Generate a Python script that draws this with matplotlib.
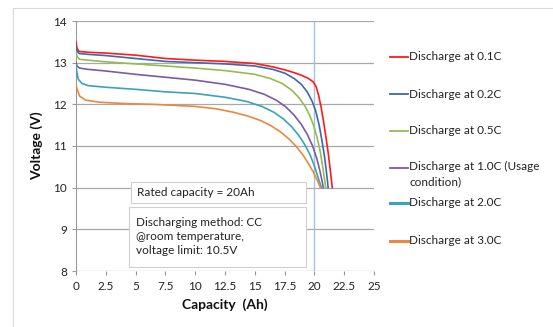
import matplotlib
matplotlib.use('Agg')
import matplotlib.pyplot as plt
from matplotlib.lines import Line2D
from matplotlib.patches import Rectangle

plt.rcParams['font.family'] = ['Lato', 'DejaVu Sans']

# discharge curves, capacity (Ah) vs voltage (V)
cap_01 = [0, 0.08, 0.25, 1, 2.5, 5, 7.5, 10, 12.5, 15, 16.5, 17.5, 18.3, 18.9, 19.5, 19.9, 20.15,
          20.35, 20.55, 20.75, 20.95, 21.15, 21.3, 21.42, 21.5]
volt_01 = [13.5, 13.35, 13.27, 13.25, 13.23, 13.18, 13.1, 13.06, 13.03, 12.98, 12.9, 12.83, 12.76,
           12.7, 12.62, 12.54, 12.42, 12.22, 11.95, 11.62, 11.25, 10.85, 10.5, 10.2, 10.0]

cap_02 = [0, 0.08, 0.25, 1, 2.5, 5, 7.5, 10, 12.5, 15, 16.5, 17.5, 18.3, 18.9, 19.4, 19.8, 20.1,
          20.4, 20.65, 20.85, 21.0, 21.1, 21.15]
volt_02 = [13.4, 13.28, 13.22, 13.2, 13.17, 13.1, 13.03, 13.0, 12.97, 12.92, 12.84, 12.75, 12.62,
           12.48, 12.3, 12.08, 11.85, 11.5, 11.1, 10.75, 10.4, 10.15, 10.0]

cap_05 = [0, 0.08, 0.3, 1, 2.5, 5, 7.5, 10, 12.5, 15, 16.3, 17.3, 18.1, 18.7, 19.2, 19.6, 19.95,
          20.25, 20.5, 20.7, 20.85, 20.95]
volt_05 = [13.25, 13.15, 13.08, 13.06, 13.02, 12.97, 12.92, 12.87, 12.81, 12.72, 12.62, 12.5, 12.34,
           12.16, 11.96, 11.74, 11.48, 11.18, 10.85, 10.5, 10.2, 10.0]

cap_10 = [0, 0.08, 0.3, 1, 2.5, 5, 7.5, 10, 12.5, 14.5, 15.8, 16.8, 17.6, 18.3, 18.9, 19.4, 19.85,
          20.2, 20.45, 20.65, 20.75]
volt_10 = [13.0, 12.92, 12.87, 12.84, 12.8, 12.72, 12.65, 12.58, 12.48, 12.36, 12.24, 12.1, 11.94,
           11.74, 11.52, 11.28, 11.0, 10.7, 10.42, 10.15, 10.0]

cap_20 = [0, 0.05, 0.2, 0.5, 1, 2.5, 5, 7.5, 10, 12.5, 14.3, 15.6, 16.6, 17.4, 18.1, 18.7, 19.2,
          19.65, 20.0, 20.3, 20.5, 20.6]
volt_20 = [12.95, 12.8, 12.6, 12.5, 12.45, 12.41, 12.36, 12.3, 12.26, 12.17, 12.07, 11.95, 11.81,
           11.65, 11.46, 11.25, 11.03, 10.78, 10.52, 10.25, 10.08, 10.0]

cap_30 = [0, 0.05, 0.3, 0.8, 2, 4, 6.5, 10, 11.8, 13.2, 14.4, 15.5, 16.4, 17.2, 17.9, 18.5, 19.0,
          19.5, 19.9, 20.2, 20.4, 20.5]
volt_30 = [12.5, 12.4, 12.2, 12.1, 12.05, 12.02, 12.0, 11.95, 11.89, 11.81, 11.72, 11.61, 11.48,
           11.33, 11.16, 10.98, 10.8, 10.58, 10.38, 10.2, 10.07, 10.0]

series = [
    (cap_01, volt_01, 'Discharge at 0.1C', '#ff1a1a'),
    (cap_02, volt_02, 'Discharge at 0.2C', '#3d68ad'),
    (cap_05, volt_05, 'Discharge at 0.5C', '#96bb4f'),
    (cap_10, volt_10, 'Discharge at 1.0C (Usage\ncondition)', '#7b5ba6'),
    (cap_20, volt_20, 'Discharge at 2.0C', '#3aa2ba'),
    (cap_30, volt_30, 'Discharge at 3.0C', '#ea8840'),
]
legend_y = [57, 94, 131, 168, 203, 241]   # pixel rows of legend entries
legend_lw = [1.3, 1.3, 1.3, 1.3, 2.2, 2.2]

rated_capacity = 20
x_ticks = [0, 2.5, 5, 7.5, 10, 12.5, 15, 17.5, 20, 22.5, 25]
x_tick_labels = ['0', '2.5', '5', '7.5', '10', '12.5', '15', '17.5', '20', '22.5', '25']
y_ticks = [8, 9, 10, 11, 12, 13, 14]

W, H = 553, 327
fig = plt.figure(figsize=(W / 100, H / 100), dpi=100)
ax = fig.add_axes([76 / W, 1 - 271 / H, (374 - 76) / W, (271 - 21) / H])

for x, y, label, color in series:
    ax.plot(x, y, color=color, linewidth=1.2, zorder=3)

ax.axvline(rated_capacity, color='#a7c0de', linewidth=1.0, zorder=2)

ax.set_xlim(0, 25)
ax.set_ylim(8, 14)
ax.set_xticks(x_ticks)
ax.set_xticklabels(x_tick_labels)
ax.set_yticks(y_ticks)
ax.yaxis.grid(True, color='#a9a9a9', linewidth=0.9)
ax.set_axisbelow(True)
for side in ['top', 'right', 'bottom']:
    ax.spines[side].set_visible(False)
ax.spines['left'].set_color('#9a9a9a')
ax.tick_params(axis='both', colors='#9a9a9a', labelcolor='#222222', labelsize=8.5,
               length=3, width=0.8)
ax.tick_params(axis='x', pad=4)

ax.set_xlabel('Capacity  (Ah)', fontsize=10, fontweight='bold', color='#111111', labelpad=5)
ax.set_ylabel('Voltage (V)', fontsize=10, fontweight='bold', color='#111111', labelpad=7)

# annotation boxes
ax.add_patch(Rectangle((4.6, 9.63), 14.7, 0.51, facecolor='white', edgecolor='#cfcfcf',
                       linewidth=0.8, zorder=4))
ax.text(5.1, 9.89, 'Rated capacity = 20Ah', fontsize=8.5, color='#222222',
        va='center', ha='left', zorder=5)
ax.add_patch(Rectangle((4.45, 8.1), 14.85, 1.44, facecolor='white', edgecolor='#cfcfcf',
                       linewidth=0.8, zorder=4))
ax.text(5.0, 8.82, 'Discharging method: CC\n@room temperature,\nvoltage limit: 10.5V',
        fontsize=8.5, color='#222222', va='center', ha='left', linespacing=1.35, zorder=5)

# legend drawn at the right of the plot area
for (x, y, label, color), py, hlw in zip(series, legend_y, legend_lw):
    fy = 1 - py / H
    fig.add_artist(Line2D([390 / W, 408 / W], [fy, fy], color=color, linewidth=hlw))
    if '\n' in label:
        fig.text(409 / W, 1 - (py - 7) / H, label, fontsize=8.5, color='#222222',
                 va='top', ha='left', linespacing=1.45)
    else:
        fig.text(409 / W, fy, label, fontsize=8.5, color='#222222', va='center', ha='left')

# outer frame
fig.add_artist(Line2D([13 / W, 1], [1 - 8 / H, 1 - 8 / H], color='#d9d9d9', linewidth=0.8))
fig.add_artist(Line2D([13 / W, 13 / W], [0, 1 - 8 / H], color='#d9d9d9', linewidth=0.8))

fig.savefig('out.png', dpi=100)
